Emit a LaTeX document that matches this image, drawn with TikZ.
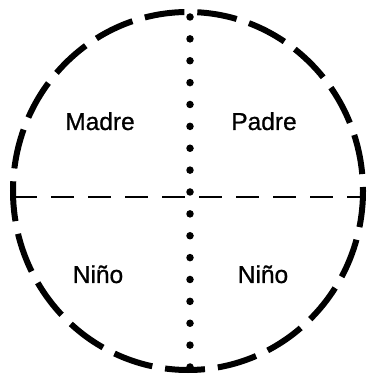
\documentclass[tikz,border=0pt]{standalone}
\usepackage{fontspec}
\setmainfont{Liberation Sans}[FakeBold=0.8]
\begin{document}
\begin{tikzpicture}[x=1pt,y=1pt,
  rim/.style={line width=6pt, dash pattern=on 40pt off 12.95pt, dash phase=36pt},
  axisline/.style={line width=2.6pt, dash pattern=on 23pt off 14pt},
  dotline/.style={line width=7.5pt, line cap=round, dash pattern=on 0pt off 21.875pt},
  lbl/.style={font=\fontsize{24.5}{28}\selectfont, anchor=base, inner sep=0pt}]
\useasboundingbox (0,0) rectangle (370,374);
\coordinate (c) at (188,183);
\coordinate (L) at (14,177);
\coordinate (R) at (363,177);
\coordinate (T) at (190,357);
\coordinate (B) at (190,7);
\draw[rim] (c) ellipse [x radius=175, y radius=179];
\draw[axisline] (L) -- (R);
\draw[dotline] (T) -- (B);
\node[lbl] (madre) at (100,244) {Madre};
\node[lbl] (padre) at (264,244) {Padre};
\node[lbl] (nino1) at (98,91) {Niño};
\node[lbl] (nino2) at (263,91) {Niño};
\end{tikzpicture}
\end{document}
